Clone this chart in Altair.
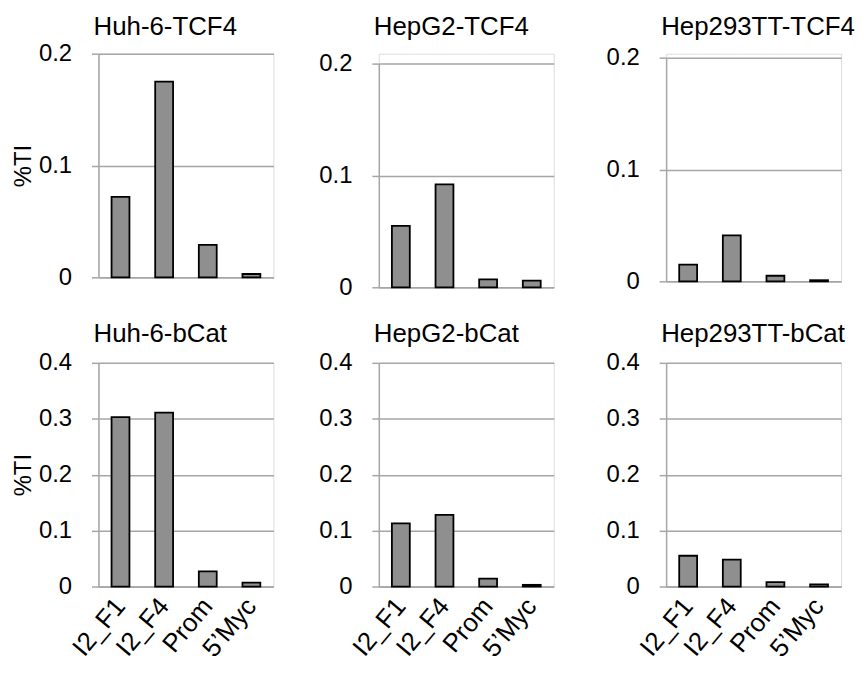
import altair as alt
import pandas as pd

cells = ["Huh-6", "HepG2", "Hep293TT"]
regions = ["I2_F1", "I2_F4", "Prom", "5’Myc"]

tcf4_huh6 = [0.072, 0.175, 0.029, 0.003]
tcf4_hepg2 = [0.055, 0.092, 0.007, 0.006]
tcf4_hep293tt = [0.015, 0.041, 0.005, 0.001]

bcat_huh6 = [0.303, 0.311, 0.027, 0.007]
bcat_hepg2 = [0.113, 0.128, 0.014, 0.003]
bcat_hep293tt = [0.055, 0.048, 0.008, 0.004]

tcf4_ticks = [0, 0.1, 0.2]
bcat_ticks = [0, 0.1, 0.2, 0.3, 0.4]

FONT = "Liberation Sans"
GRAY = "#a6a6a6"
BAR = "#8f8f8f"
PLOT_H = 225


def panel(title, values, ticks, bottom, first, title_offset, shift, min_extent):
    df = pd.DataFrame({"region": regions, "value": values})
    x_axis = alt.Axis(
        title=None,
        labels=bottom,
        ticks=False,
        labelAngle=310,
        labelFontSize=26,
        labelFont=FONT,
        labelColor="black",
        labelPadding=15,
        domainColor=GRAY,
        domainWidth=1.5,
        grid=False,
    )
    y_axis = alt.Axis(
        values=ticks,
        format=".1~f",
        title="%TI" if first else None,
        titleFont=FONT,
        titleFontSize=24,
        titleFontWeight="normal",
        titleColor="black",
        titlePadding=-1,
        labelFont=FONT,
        labelFontSize=24,
        labelColor="black",
        labelPadding=20,
        tickSize=7,
        tickColor=GRAY,
        tickWidth=1.5,
        domainColor=GRAY,
        domainWidth=1.5,
        grid=True,
        gridColor=GRAY,
        gridWidth=1.5,
        minExtent=min_extent,
    )
    return (
        alt.Chart(df)
        .mark_bar(fill=BAR, stroke="black", strokeWidth=1.8)
        .encode(
            x=alt.X(
                "region:N",
                sort=regions,
                scale=alt.Scale(paddingInner=0.59, paddingOuter=0.3),
                axis=x_axis,
            ),
            y=alt.Y(
                "value:Q",
                scale=alt.Scale(
                    domain=[ticks[0], ticks[-1]],
                    nice=False,
                    range=[PLOT_H + shift, shift],
                ),
                axis=y_axis,
            ),
        )
        .properties(
            width=176,
            height=PLOT_H + shift,
            title=alt.TitleParams(
                text=title,
                font=FONT,
                fontSize=26,
                fontWeight="normal",
                color="black",
                anchor="start",
                frame="group",
                offset=title_offset,
                dx=-5,
            ),
        )
    )


top = alt.hconcat(
    panel("Huh-6-TCF4", tcf4_huh6, tcf4_ticks, False, True, 2, 0, 64),
    panel("HepG2-TCF4", tcf4_hepg2, tcf4_ticks, False, False, 12, 10, 64),
    panel("Hep293TT-TCF4", tcf4_hep293tt, tcf4_ticks, False, False, 6, 4, 71),
    spacing=40,
)
bottom = alt.hconcat(
    panel("Huh-6-bCat", bcat_huh6, bcat_ticks, True, True, 4, 0, 64),
    panel("HepG2-bCat", bcat_hepg2, bcat_ticks, True, False, 4, 0, 64),
    panel("Hep293TT-bCat", bcat_hep293tt, bcat_ticks, True, False, 4, 0, 71),
    spacing=40,
)

chart = (
    alt.vconcat(top, bottom, spacing=20)
    .properties(padding={"left": 3, "top": 3, "right": 0, "bottom": 0})
    .configure_view(stroke=None)
    .configure(background="white")
)

chart.save("out.html", embed_options={"renderer": "svg", "actions": False})
